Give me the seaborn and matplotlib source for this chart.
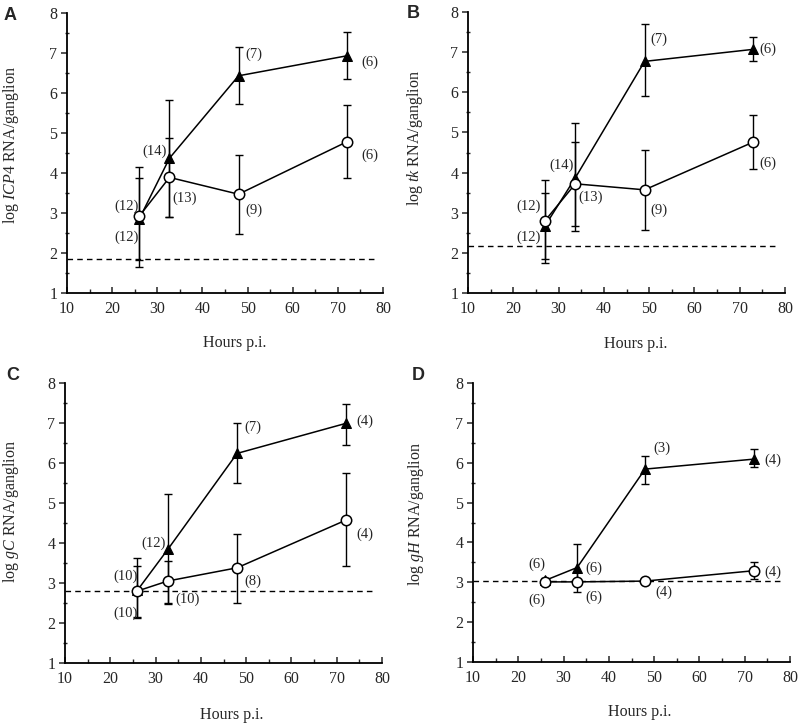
import numpy as np
import pandas as pd
import matplotlib
matplotlib.use("Agg")
import matplotlib.pyplot as plt
import seaborn as sns

# ---------------- data ----------------
panels = ["A", "B", "C", "D"]
genes = ["ICP4", "tk", "gC", "gH"]

# x positions (hours p.i.)
x_A = [26, 32.7, 48, 72]
x_B = [27, 33.7, 49, 73]
x_C = [26, 32.7, 48, 72]
x_D = [26, 33, 48, 72]

# filled triangles: mean, lower, upper
tri_A = [2.85, 4.37, 6.43, 6.93]
tri_lo_A = [1.83, 2.91, 5.72, 6.35]
tri_hi_A = [3.87, 5.83, 7.15, 7.53]
tri_B = [2.67, 3.87, 6.77, 7.07]
tri_lo_B = [1.84, 2.55, 5.90, 6.77]
tri_hi_B = [3.50, 5.23, 7.69, 7.37]
tri_C = [2.82, 3.84, 6.24, 6.99]
tri_lo_C = [2.15, 2.48, 5.49, 6.46]
tri_hi_C = [3.42, 5.22, 7.00, 7.48]
tri_D = [3.05, 3.37, 5.84, 6.09]
tri_lo_D = [3.00, 2.95, 5.47, 5.88]
tri_hi_D = [3.12, 3.95, 6.18, 6.34]

# open circles: mean, lower, upper
circ_A = [2.92, 3.89, 3.47, 4.78]
circ_lo_A = [1.66, 2.90, 2.48, 3.88]
circ_hi_A = [4.14, 4.88, 4.46, 5.70]
circ_B = [2.80, 3.72, 3.57, 4.76]
circ_lo_B = [1.74, 2.67, 2.57, 4.08]
circ_hi_B = [3.82, 4.77, 4.55, 5.43]
circ_C = [2.80, 3.05, 3.38, 4.57]
circ_lo_C = [2.12, 2.50, 2.49, 3.42]
circ_hi_C = [3.63, 3.56, 4.23, 5.75]
circ_D = [3.01, 3.01, 3.03, 3.29]
circ_lo_D = [2.98, 2.76, 3.00, 3.07]
circ_hi_D = [3.05, 3.27, 3.06, 3.50]

# detection limits (dashed lines)
baseline = [1.85, 2.18, 2.80, 3.03]

# sample sizes
n_tri_A = [12, 14, 7, 6]
n_circ_A = [12, 13, 9, 6]
n_tri_B = [12, 14, 7, 6]
n_circ_B = [12, 13, 9, 6]
n_tri_C = [10, 12, 7, 4]
n_circ_C = [10, 10, 8, 4]
n_tri_D = [6, 6, 3, 4]
n_circ_D = [6, 6, 4, 4]

# ---------------- layout ----------------
W, H = 800, 725
axes_px = {  # left, right, top, bottom in pixels
    "A": (67, 383, 13, 293),
    "B": (468, 785, 12, 293),
    "C": (65, 382, 383, 663),
    "D": (473, 790, 383, 662),
}
ylabel_xy = {"A": (-0.178, 0.53), "B": (-0.167, 0.55), "C": (-0.170, 0.54), "D": (-0.180, 0.53)}
xlabel_xy = {"A": (0.53, -0.18), "B": (0.53, -0.18), "C": (0.527, -0.186), "D": (0.527, -0.18)}
letter_px = {"A": (10, 15), "B": (413, 14), "C": (13, 376), "D": (418, 376)}
# label positions (data coords) for triangle n's and circle n's
tri_lab_pos = {
    "A": [(23.3, 2.40), (29.4, 4.54), (51.4, 6.98), (77.2, 6.78)],
    "B": [(23.3, 2.40), (30.6, 4.18), (52.1, 7.33), (76.3, 7.07)],
    "C": [(23.3, 2.25), (29.5, 4.00), (51.4, 6.89), (76.3, 7.04)],
    "D": [(24.1, 3.45), (36.8, 3.35), (51.8, 6.36), (76.2, 6.07)],
}
circ_lab_pos = {
    "A": [(23.3, 3.17), (36.0, 3.38), (51.4, 3.07), (77.2, 4.44)],
    "B": [(23.3, 3.17), (37.1, 3.39), (52.1, 3.07), (76.3, 4.24)],
    "C": [(23.3, 3.17), (37.0, 2.59), (51.4, 3.05), (76.3, 4.22)],
    "D": [(24.1, 2.55), (36.8, 2.63), (52.1, 2.74), (76.2, 3.26)],
}

sns.set_style("ticks")
plt.rcParams["font.family"] = ["Liberation Serif", "DejaVu Serif"]
plt.rcParams["mathtext.fontset"] = "custom"
plt.rcParams["mathtext.rm"] = "Liberation Serif"
plt.rcParams["mathtext.it"] = "Liberation Serif:italic"

data = {
    "A": (x_A, tri_A, tri_lo_A, tri_hi_A, circ_A, circ_lo_A, circ_hi_A, n_tri_A, n_circ_A),
    "B": (x_B, tri_B, tri_lo_B, tri_hi_B, circ_B, circ_lo_B, circ_hi_B, n_tri_B, n_circ_B),
    "C": (x_C, tri_C, tri_lo_C, tri_hi_C, circ_C, circ_lo_C, circ_hi_C, n_tri_C, n_circ_C),
    "D": (x_D, tri_D, tri_lo_D, tri_hi_D, circ_D, circ_lo_D, circ_hi_D, n_tri_D, n_circ_D),
}

fig = plt.figure(figsize=(W / 100, H / 100), dpi=100)
fig.patch.set_facecolor("white")

for i, p in enumerate(panels):
    l, r, t, b = axes_px[p]
    ax = fig.add_axes([l / W, 1 - b / H, (r - l) / W, (b - t) / H])
    ax.set_facecolor("white")
    x, tri, tlo, thi, circ, clo, chi, ntri, ncirc = data[p]
    x = np.array(x); tri = np.array(tri); circ = np.array(circ)
    tlo = np.array(tlo); thi = np.array(thi); clo = np.array(clo); chi = np.array(chi)

    # dashed detection limit
    ax.axhline(baseline[i], xmin=0, xmax=(78 - 10) / 70, color="k", lw=1.0,
               dashes=(4, 3), zorder=1)

    # error bars
    ax.errorbar(x, tri, yerr=[tri - tlo, thi - tri], fmt="none", ecolor="k",
                elinewidth=1.0, capsize=3, capthick=1.0, zorder=2)
    ax.errorbar(x, circ, yerr=[circ - clo, chi - circ], fmt="none", ecolor="k",
                elinewidth=1.0, capsize=3, capthick=1.0, zorder=2)

    df_t = pd.DataFrame({"x": x, "y": tri})
    df_c = pd.DataFrame({"x": x, "y": circ})
    sns.lineplot(data=df_t, x="x", y="y", ax=ax, color="k", lw=1.1,
                 marker="^", markersize=7, markerfacecolor="k",
                 markeredgecolor="k", zorder=3, clip_on=False)
    sns.lineplot(data=df_c, x="x", y="y", ax=ax, color="k", lw=1.1,
                 marker="o", markersize=7.5, markerfacecolor="white",
                 markeredgecolor="k", markeredgewidth=1.1, zorder=4, clip_on=False)

    for n, (px, py) in zip(ntri, tri_lab_pos[p]):
        ax.text(px, py, f"({n})", ha="center", va="center", fontsize=10.5)
    for n, (px, py) in zip(ncirc, circ_lab_pos[p]):
        ax.text(px, py, f"({n})", ha="center", va="center", fontsize=10.5)

    ax.set_xlim(10, 80)
    ax.set_ylim(1, 8)
    ax.set_xticks(np.arange(10, 81, 10))
    ax.set_xticks(np.arange(15, 80, 10), minor=True)
    ax.set_yticks(np.arange(1, 9, 1))
    ax.set_yticks(np.arange(1.5, 8, 1), minor=True)
    ax.tick_params(axis="x", which="major", direction="in", length=4, width=1.1,
                   labelsize=11.5, pad=6)
    ax.tick_params(axis="x", which="minor", direction="in", length=3, width=1.0)
    ax.tick_params(axis="y", which="major", direction="out", length=4, width=1.1,
                   labelsize=11.5, pad=3)
    ax.tick_params(axis="y", which="minor", direction="inout", length=3, width=1.0)
    sns.despine(ax=ax)
    for s in ["left", "bottom"]:
        ax.spines[s].set_linewidth(1.3)
        ax.spines[s].set_color("k")

    ax.set_xlabel("Hours p.i.", fontsize=11.5)
    ax.xaxis.set_label_coords(*xlabel_xy[p])
    ax.xaxis.label.set_va("center")
    ax.set_ylabel(r"log $\mathit{" + genes[i] + r"}$ RNA/ganglion", fontsize=11.5)
    ax.yaxis.set_label_coords(*ylabel_xy[p])
    ax.yaxis.label.set_va("center")

    lx, ly = letter_px[p]
    fig.text(lx / W, 1 - ly / H, p, ha="center", va="center", fontsize=13,
             fontweight="bold", family="Liberation Sans")

fig.savefig("out.png", dpi=100, facecolor="white")
